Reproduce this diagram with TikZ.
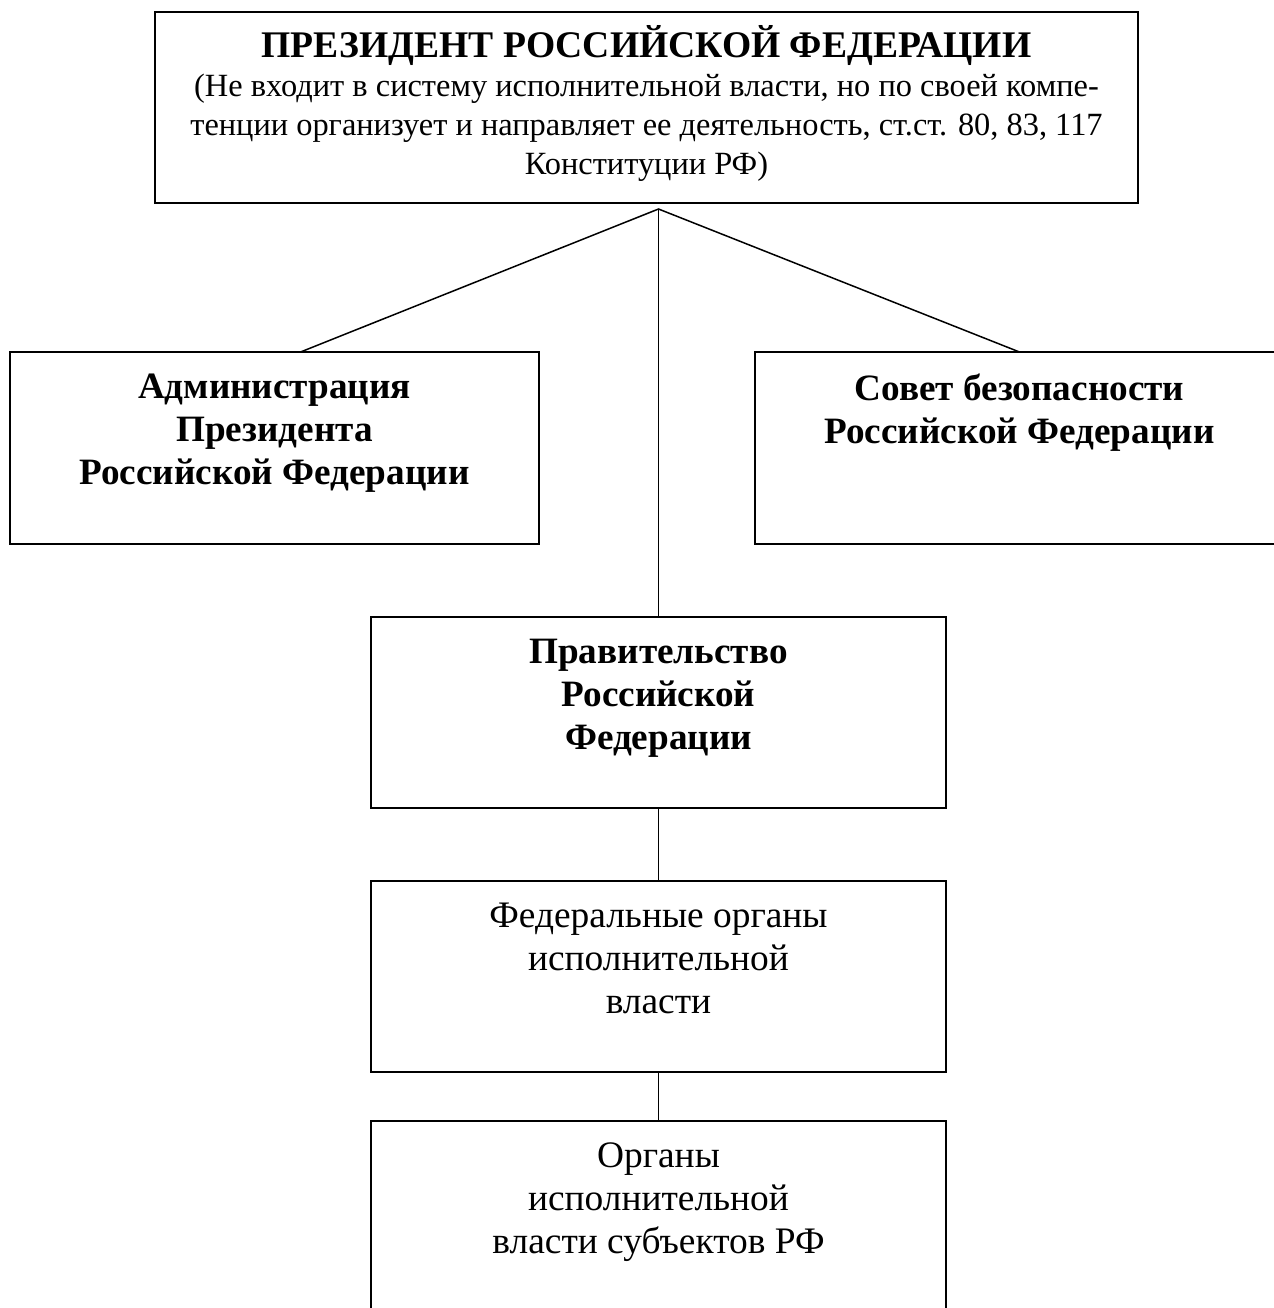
\documentclass[tikz,border=0pt]{standalone}
\usepackage{fontspec}
\setmainfont{Liberation Serif}
\usetikzlibrary{calc}

\begin{document}
\begin{tikzpicture}[x=0.5pt,y=-0.5pt,
  box/.style={draw,line width=1pt,inner sep=0pt,outer sep=0pt},
  btext/.style={align=center,inner sep=0pt,anchor=north,font=\fontsize{18.6}{21.5}\selectfont\bfseries},
  ntext/.style={align=center,inner sep=0pt,anchor=north,font=\fontsize{18.7}{21.5}\selectfont}]
  \useasboundingbox (0,0) rectangle (1274,1308);
  \clip (0,0) rectangle (1274,1308);
  % boxes
  \node[box,minimum width=491.5pt,minimum height=95.5pt] (pres) at (646.5,107.5) {};
  \node[box,minimum width=264.5pt,minimum height=96pt] (admin) at (274.5,448) {};
  \node[box,minimum width=264.5pt,minimum height=96pt] (sovbez) at (1019.5,448) {};
  \node[box,minimum width=287.5pt,minimum height=95.5pt] (prav) at (658.5,712.5) {};
  \node[box,minimum width=287.5pt,minimum height=95.5pt] (feo) at (658.5,976.5) {};
  \node[box,minimum width=287.5pt,minimum height=99.5pt] (subj) at (658.5,1220.5) {};
  % texts
  \node[ntext,font=\fontsize{16.2}{19.5}\selectfont] (pres-t) at ($(pres.north)+(0,13)$)
    {{\fontsize{18.8}{19.5}\selectfont\bfseries ПРЕЗИДЕНТ РОССИЙСКОЙ ФЕДЕРАЦИИ}\\
     (Не входит в систему исполнительной власти, но по своей компе-\\
     тенции организует и направляет ее деятельность, ст.ст. 80, 83, 117\\
     Конституции РФ)};
  \node[btext] (admin-t) at ($(admin.north)+(0,22)$) {Администрация\\Президента\\Российской Федерации};
  \node[btext] (sovbez-t) at ($(sovbez.north)+(0,21)$) {Совет безопасности\\Российской Федерации};
  \node[btext] (prav-t) at ($(prav.north)+(0,22)$) {Правительство\\Российской\\Федерации};
  \node[ntext] (feo-t) at ($(feo.north)+(0,22)$) {Федеральные органы\\исполнительной\\власти};
  \node[ntext] (subj-t) at ($(subj.north)+(0,21)$) {Органы\\исполнительной\\власти субъектов РФ};
  % connectors
  \coordinate (apex) at (658.5,209);
  \draw[line width=0.75pt] ($(admin.north)+(26,0)$) -- (apex) -- (sovbez.north);
  \draw[line width=0.75pt] (apex) -- (prav.north);
  \draw[line width=0.75pt] (prav.south) -- (feo.north);
  \draw[line width=0.75pt] (feo.south) -- (subj.north);
\end{tikzpicture}
\end{document}
